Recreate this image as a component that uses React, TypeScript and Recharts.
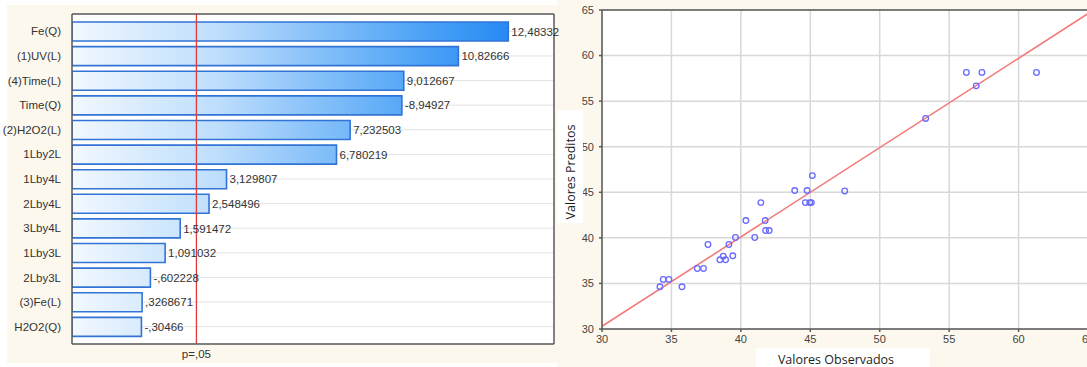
import React from "react";
import {
  BarChart,
  Bar,
  XAxis,
  YAxis,
  CartesianGrid,
  ReferenceLine,
  LabelList,
  ScatterChart,
  Scatter,
} from "recharts";

// pareto of standardized effects
const effectNames = [
  "Fe(Q)",
  "(1)UV(L)",
  "(4)Time(L)",
  "Time(Q)",
  "(2)H2O2(L)",
  "1Lby2L",
  "1Lby4L",
  "2Lby4L",
  "3Lby4L",
  "1Lby3L",
  "2Lby3L",
  "(3)Fe(L)",
  "H2O2(Q)",
];
const effectValues = [
  12.48332, 10.82666, 9.012667, -8.94927, 7.232503, 6.780219, 3.129807,
  2.548496, 1.591472, 1.091032, -0.602228, 0.3268671, -0.30466,
];
const effectLabels = [
  "12,48332",
  "10,82666",
  "9,012667",
  "-8,94927",
  "7,232503",
  "6,780219",
  "3,129807",
  "2,548496",
  "1,591472",
  "1,091032",
  "-,602228",
  ",3268671",
  "-,30466",
];
const paretoMin = -2;
const paretoMax = 14;
const pCritical = 2.13;
const pLabel = "p=,05";

// observed vs predicted
const observed = [
  34.17, 34.41, 34.82, 35.76, 36.86, 37.31, 37.63, 38.49, 38.73, 38.9, 39.14,
  39.42, 39.61, 40.36, 41.0, 41.44, 41.75, 41.78, 42.04, 43.88, 44.77, 44.65,
  44.96, 45.08, 45.15, 47.48, 53.31, 56.24, 57.36, 56.95, 61.29,
];
const predicted = [
  34.63, 35.44, 35.44, 34.63, 36.64, 36.64, 39.27, 37.59, 37.99, 37.59, 39.27,
  38.03, 40.04, 41.9, 40.04, 43.87, 41.9, 40.8, 40.8, 45.19, 45.19, 43.87,
  43.87, 43.87, 46.83, 45.14, 53.1, 58.14, 58.14, 56.68, 58.14,
];
const fitX = [30, 65];
const fitY = [30.3, 64.6];
const majorTicks = [30, 35, 40, 45, 50, 55, 60, 65];

const paretoData = effectNames.map((name, i) => ({
  name,
  span: [paretoMin, Math.abs(effectValues[i])],
  label: effectLabels[i],
}));
const scatterData = observed.map((x, i) => ({ x, y: predicted[i] }));

const range = (a: number, b: number) =>
  Array.from({ length: b - a + 1 }, (_, i) => a + i);

const font = "'Liberation Sans', Arial, sans-serif";
const axisColor = "#5a5a5a";

function ParetoChart() {
  return (
    <BarChart
      width={600}
      height={367}
      layout="vertical"
      data={paretoData}
      margin={{ top: 14, right: 46, bottom: 23, left: 2 }}
      style={{ fontFamily: font }}
    >
      <defs>
        <linearGradient
          id="barGrad"
          gradientUnits="userSpaceOnUse"
          x1={72}
          y1={0}
          x2={554}
          y2={0}
        >
          <stop offset="0%" stopColor="#f2f8ff" />
          <stop offset="30%" stopColor="#bedefc" />
          <stop offset="70%" stopColor="#53a6f7" />
          <stop offset="96%" stopColor="#1983f2" />
        </linearGradient>
      </defs>
      <CartesianGrid vertical={false} stroke="#e2e2e2" fill="#ffffff" />
      <XAxis
        type="number"
        domain={[paretoMin, paretoMax]}
        ticks={[0, 2, 4, 6, 8, 10, 12]}
        allowDataOverflow
        mirror
        tick={false}
        tickSize={3}
        stroke={axisColor}
        strokeWidth={1.5}
      />
      <XAxis
        xAxisId="top"
        orientation="top"
        type="number"
        domain={[paretoMin, paretoMax]}
        ticks={range(-1, 13)}
        allowDataOverflow
        mirror
        tick={false}
        tickSize={3}
        stroke={axisColor}
        strokeWidth={1.5}
      />
      <YAxis
        type="category"
        dataKey="name"
        width={70}
        padding={{ top: 5, bottom: 5 }}
        tickLine={false}
        tickMargin={5}
        tick={{ fontSize: 11.5, fill: "#333" }}
        stroke={axisColor}
        strokeWidth={1.5}
        interval={0}
      />
      <YAxis
        yAxisId="right"
        orientation="right"
        type="category"
        dataKey="name"
        padding={{ top: 5, bottom: 5 }}
        mirror
        tick={false}
        tickSize={3}
        stroke={axisColor}
        strokeWidth={1.5}
        interval={0}
      />
      <Bar
        dataKey="span"
        barSize={19}
        fill="url(#barGrad)"
        stroke="#3274d6"
        strokeWidth={1.6}
        isAnimationActive={false}
      >
        <LabelList
          dataKey="label"
          position="right"
          offset={3}
          fill="#333"
          fontSize={11.5}
        />
      </Bar>
      <ReferenceLine
        x={pCritical}
        stroke="#e03a3a"
        strokeWidth={1.3}
        label={{
          value: pLabel,
          position: "bottom",
          offset: 6,
          fill: "#333",
          fontSize: 11.5,
        }}
      />
    </BarChart>
  );
}

function FitChart() {
  return (
    <ScatterChart
      width={540}
      height={367}
      margin={{ top: 10, right: 12, bottom: 18, left: 6 }}
      style={{ fontFamily: font }}
    >
      <CartesianGrid stroke="#d8d8d8" strokeWidth={1.5} fill="#ffffff" />
      <XAxis
        type="number"
        dataKey="x"
        domain={[30, 65]}
        ticks={majorTicks}
        allowDataOverflow
        height={20}
        tickSize={3}
        tickMargin={3}
        tick={{ fontSize: 11, fill: "#444" }}
        stroke={axisColor}
        strokeWidth={1.5}
      />
      <XAxis
        xAxisId="minorBottom"
        type="number"
        domain={[30, 65]}
        ticks={range(30, 65)}
        allowDataOverflow
        mirror
        tick={false}
        tickSize={2}
        axisLine={false}
        stroke={axisColor}
      />
      <XAxis
        xAxisId="top"
        orientation="top"
        type="number"
        domain={[30, 65]}
        ticks={range(30, 65)}
        allowDataOverflow
        mirror
        tick={false}
        tickSize={2}
        stroke={axisColor}
        strokeWidth={1.5}
      />
      <YAxis
        type="number"
        dataKey="y"
        domain={[30, 65]}
        ticks={majorTicks}
        allowDataOverflow
        width={36}
        tickSize={3}
        tickMargin={5}
        tick={{ fontSize: 11, fill: "#444" }}
        stroke={axisColor}
        strokeWidth={1.5}
      />
      <YAxis
        yAxisId="minorLeft"
        type="number"
        domain={[30, 65]}
        ticks={range(30, 65)}
        allowDataOverflow
        mirror
        tick={false}
        tickSize={2}
        axisLine={false}
        stroke={axisColor}
      />
      <YAxis
        yAxisId="right"
        orientation="right"
        type="number"
        domain={[30, 65]}
        ticks={majorTicks}
        allowDataOverflow
        mirror
        tick={false}
        tickSize={3}
        stroke={axisColor}
        strokeWidth={1.5}
      />
      <ReferenceLine
        segment={[
          { x: fitX[0], y: fitY[0] },
          { x: fitX[1], y: fitY[1] },
        ]}
        stroke="#f27b7b"
        strokeWidth={1.6}
      />
      <Scatter
        data={scatterData}
        isAnimationActive={false}
        shape={(p: any) => (
          <circle
            cx={p.cx}
            cy={p.cy}
            r={2.8}
            fill="none"
            stroke="#6a6aff"
            strokeWidth={1.3}
          />
        )}
      />
    </ScatterChart>
  );
}

export default function App() {
  const title = {
    position: "absolute" as const,
    fontFamily: "'Open Sans', sans-serif",
    fontSize: 12.5,
    color: "#1e1e1e",
    whiteSpace: "nowrap" as const,
    lineHeight: 1,
  };
  return (
    <div
      style={{
        position: "fixed",
        left: 0,
        top: 0,
        width: 1087,
        height: 367,
        overflow: "hidden",
        background: "#ffffff",
      }}
    >
      <div
        style={{
          position: "absolute",
          left: 7,
          top: 5,
          width: 1080,
          height: 358,
          background: "#fdf8ee",
        }}
      />
      <div
        style={{
          position: "absolute",
          left: 557,
          top: 0,
          width: 530,
          height: 367,
          background: "#fdf8ee",
        }}
      />
      <div style={{ position: "absolute", left: 0, top: 0 }}>
        <ParetoChart />
      </div>
      <div style={{ position: "absolute", left: 560, top: 0 }}>
        <FitChart />
      </div>
      <div
        style={{
          position: "absolute",
          left: 557,
          top: 110,
          width: 26,
          height: 113,
          background: "#ffffff",
        }}
      />
      <div
        style={{
          ...title,
          left: 571,
          top: 172,
          transform: "translate(-50%, -50%) rotate(-90deg)",
        }}
      >
        Valores Preditos
      </div>
      <div
        style={{
          position: "absolute",
          left: 756,
          top: 348,
          width: 174,
          height: 19,
          background: "#ffffff",
        }}
      />
      <div
        style={{
          ...title,
          left: 836,
          top: 360,
          transform: "translate(-50%, -50%)",
        }}
      >
        Valores Observados
      </div>
    </div>
  );
}
